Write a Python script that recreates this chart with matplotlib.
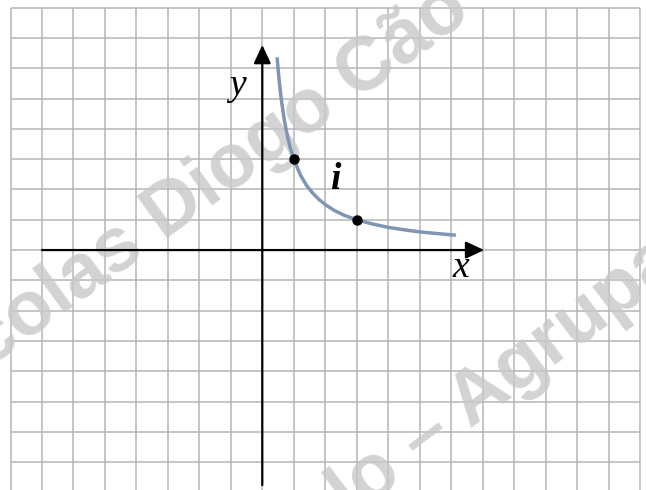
import matplotlib.pyplot as plt

# valores
curva_x = [0.47, 0.5, 0.55, 0.6, 0.7, 0.8, 0.9, 1.0, 1.2, 1.4, 1.6, 1.8, 2.0,
           2.3, 2.6, 3.0, 3.5, 4.0, 4.5, 5.0, 5.5, 6.15]
curva_y = [6.36, 6.0, 5.45, 5.0, 4.29, 3.75, 3.33, 3.0, 2.5, 2.14, 1.88, 1.67, 1.5,
           1.3, 1.15, 1.0, 0.86, 0.75, 0.67, 0.6, 0.55, 0.49]
pontos_x = [1, 3]
pontos_y = [3, 1]

grelha_x = list(range(-8, 13))
grelha_y = list(range(-7, 9))
xmin, xmax = -8, 12
ymin, ymax = -7.92, 8

W, H = 646, 490
fig = plt.figure(figsize=(W / 100, H / 100), dpi=100)
ax = fig.add_axes([10.5 / W, 0, 629.5 / W, 482.3 / H])
ax.set_xlim(xmin, xmax)
ax.set_ylim(ymin, ymax)
ax.axis('off')

# grelha (papel quadriculado)
cor_grelha = '#b5b5b5'
ax.vlines(grelha_x, ymin, ymax, colors=cor_grelha, lw=1.1, clip_on=False, zorder=1)
ax.hlines(grelha_y, xmin, xmax, colors=cor_grelha, lw=1.1, clip_on=False, zorder=1)

# marca de água (por baixo dos eixos)
ax.text(188 / W, 1 - 199 / H, 'Nicolas Diogo Cão', transform=fig.transFigure,
        rotation=36, rotation_mode='anchor', ha='center', va='center',
        fontsize=55, fontweight='bold', family='Liberation Sans',
        color='#c8c8c8', alpha=0.8, clip_on=False, zorder=2)
ax.text(350 / W, 1 - 519 / H, 'lo – Agrupamento', transform=fig.transFigure,
        rotation=37, rotation_mode='anchor', ha='left', va='baseline',
        fontsize=55, fontweight='bold', family='Liberation Sans',
        color='#c8c8c8', alpha=0.8, clip_on=False, zorder=2)

# eixos com setas
seta = dict(arrowstyle='-|>,head_length=0.75,head_width=0.35', color='black',
            lw=1.6, mutation_scale=15, shrinkA=0, shrinkB=0)
ax.annotate('', xy=(7.05, 0), xytext=(-7, 0), arrowprops=seta, zorder=3)
ax.annotate('', xy=(0, 6.77), xytext=(0, -7.76), arrowprops=seta, zorder=3)

# curva i
ax.plot(curva_x, curva_y, color='#7f95b3', lw=2.5, solid_capstyle='butt', zorder=4)
ax.plot(pontos_x, pontos_y, 'o', color='black', ms=6.5, zorder=5)

ax.text(-0.8, 5.12, 'y', fontsize=27, style='italic', family='Liberation Serif',
        ha='center', va='baseline', zorder=5)
ax.text(6.29, -0.88, 'x', fontsize=27, style='italic', family='Liberation Serif',
        ha='center', va='baseline', zorder=5)
ax.text(2.31, 2.01, 'i', fontsize=27, style='italic', fontweight='bold',
        family='Liberation Serif', ha='center', va='baseline', zorder=5)

fig.savefig('out.png', dpi=100)
